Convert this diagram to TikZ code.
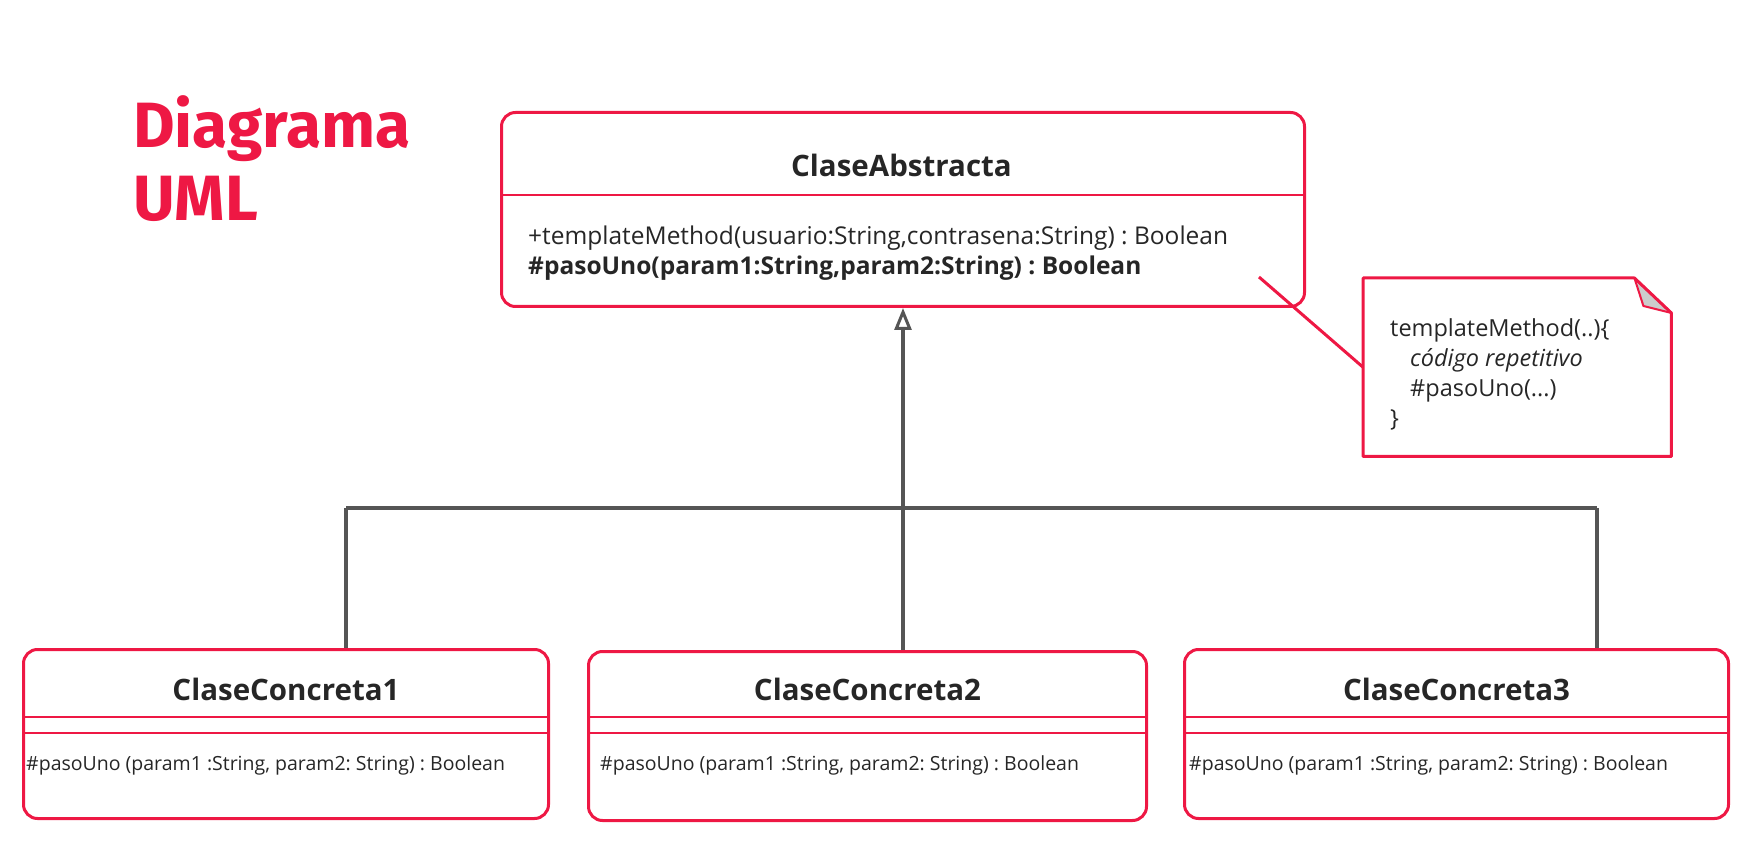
\documentclass[tikz,border=0pt]{standalone}
\usepackage{fontspec}
\setmainfont{Open Sans}
\newfontfamily\titlefont{Fira Sans}
\usetikzlibrary{arrows.meta, positioning}
\frenchspacing

\definecolor{umlred}{RGB}{238,24,68}
\definecolor{umlgray}{RGB}{85,85,85}
\definecolor{foldgray}{RGB}{204,204,204}

\begin{document}
\begin{tikzpicture}[x=1pt, y=-1pt,
    classbox/.style={draw=umlred, line width=3pt, rounded corners=14pt, anchor=north west, inner sep=0pt},
    divider/.style={draw=umlred, line width=1.5pt},
    classname/.style={font=\fontsize{29.5}{34}\selectfont\bfseries, text=black!85},
    optext/.style={font=\fontsize{24.5}{30}\selectfont, text=black!85, anchor=base west, inner sep=0pt},
    subtext/.style={font=\fontsize{19.5}{24}\selectfont, text=black!85, anchor=base west, inner sep=0pt},
    titletext/.style={font=\titlefont\bfseries\fontsize{64}{70}\selectfont, text=umlred, anchor=base west, inner sep=0pt},
    genline/.style={draw=umlgray, line width=3.5pt},
    notebox/.style={draw=umlred, line width=3pt, line join=round}]
\useasboundingbox (0,0) rectangle (1743,866);

    % Title
    \node (diag) [titletext] at (133,148) {Diagrama};
    \node (uml) [titletext] at (133,221) {UML};

    % Abstract class
    \node (abs) [classbox, minimum width=803, minimum height=194] at (500,111) {};
    \node (absname) [classname] at (901.5,165) {ClaseAbstracta};
    \draw[divider] (abs.west |- 0,195) -- (abs.east |- 0,195);
    \node (absop1) [optext] at (528,245) {+templateMethod(usuario:String,contrasena:String) : Boolean};
    \node (absop2) [optext, font=\fontsize{24.5}{30}\selectfont\bfseries] at (528,275) {\#pasoUno(param1:String,param2:String) : Boolean};

    % Concrete classes
    \node (c1) [classbox, minimum width=525, minimum height=169] at (22,648) {};
    \node (c2) [classbox, minimum width=558, minimum height=169] at (587,650) {};
    \node (c3) [classbox, minimum width=544, minimum height=169] at (1183,648) {};
    \node (c1name) [classname] at (c1.north |- 0,689) {ClaseConcreta1};
    \node (c2name) [classname] at (c2.north |- 0,689) {ClaseConcreta2};
    \node (c3name) [classname] at (c3.north |- 0,689) {ClaseConcreta3};
    \foreach \c in {c1,c2,c3} {
        \draw[divider] (\c.west |- 0,717) -- (\c.east |- 0,717);
        \draw[divider] (\c.west |- 0,733) -- (\c.east |- 0,733);
    }
    \node (c1op) [subtext] at (26,770) {\#pasoUno (param1 :String, param2: String) : Boolean};
    \node (c2op) [subtext] at (600,770) {\#pasoUno (param1 :String, param2: String) : Boolean};
    \node (c3op) [subtext] at (1189,770) {\#pasoUno (param1 :String, param2: String) : Boolean};

    % Note
    \node (note) [minimum width=308, minimum height=178, anchor=north west, inner sep=0pt] at (1363,278) {};
    \filldraw[notebox, fill=foldgray, line width=2pt] ([xshift=-37pt]note.north east) -- ([xshift=-28pt,yshift=-28pt]note.north east) -- ([yshift=-35pt]note.north east) -- cycle;
    \draw[notebox] (note.north west) -- ([xshift=-37pt]note.north east) -- ([yshift=-35pt]note.north east) -- (note.south east) -- (note.south west) -- cycle;
    \node (notetext) [font=\fontsize{23.5}{30}\selectfont, text=black!85, align=left, anchor=north west, inner sep=0pt] at (1390,318) {templateMethod(..)\{\\\hspace*{20pt}\textit{código repetitivo}\\\hspace*{20pt}\#pasoUno(...)\\\}};
    \coordinate (noteanchor) at (1259,277);
    \draw[umlred, line width=3pt] (noteanchor) -- (note.west);

    % Generalization
    \coordinate (junc) at (903,508);
    \coordinate (leftend) at (346,508);
    \coordinate (rightend) at (1597,508);
    \draw[genline] (leftend) -- (rightend);
    \draw[genline, -{Triangle[open, length=22pt, width=17pt, line width=3pt]}] (junc) -- (junc |- abs.south);
    \draw[genline] (leftend) -- (leftend |- c1.north);
    \draw[genline] (junc) -- (junc |- c2.north);
    \draw[genline] (rightend) -- (rightend |- c3.north);
\end{tikzpicture}
\end{document}
